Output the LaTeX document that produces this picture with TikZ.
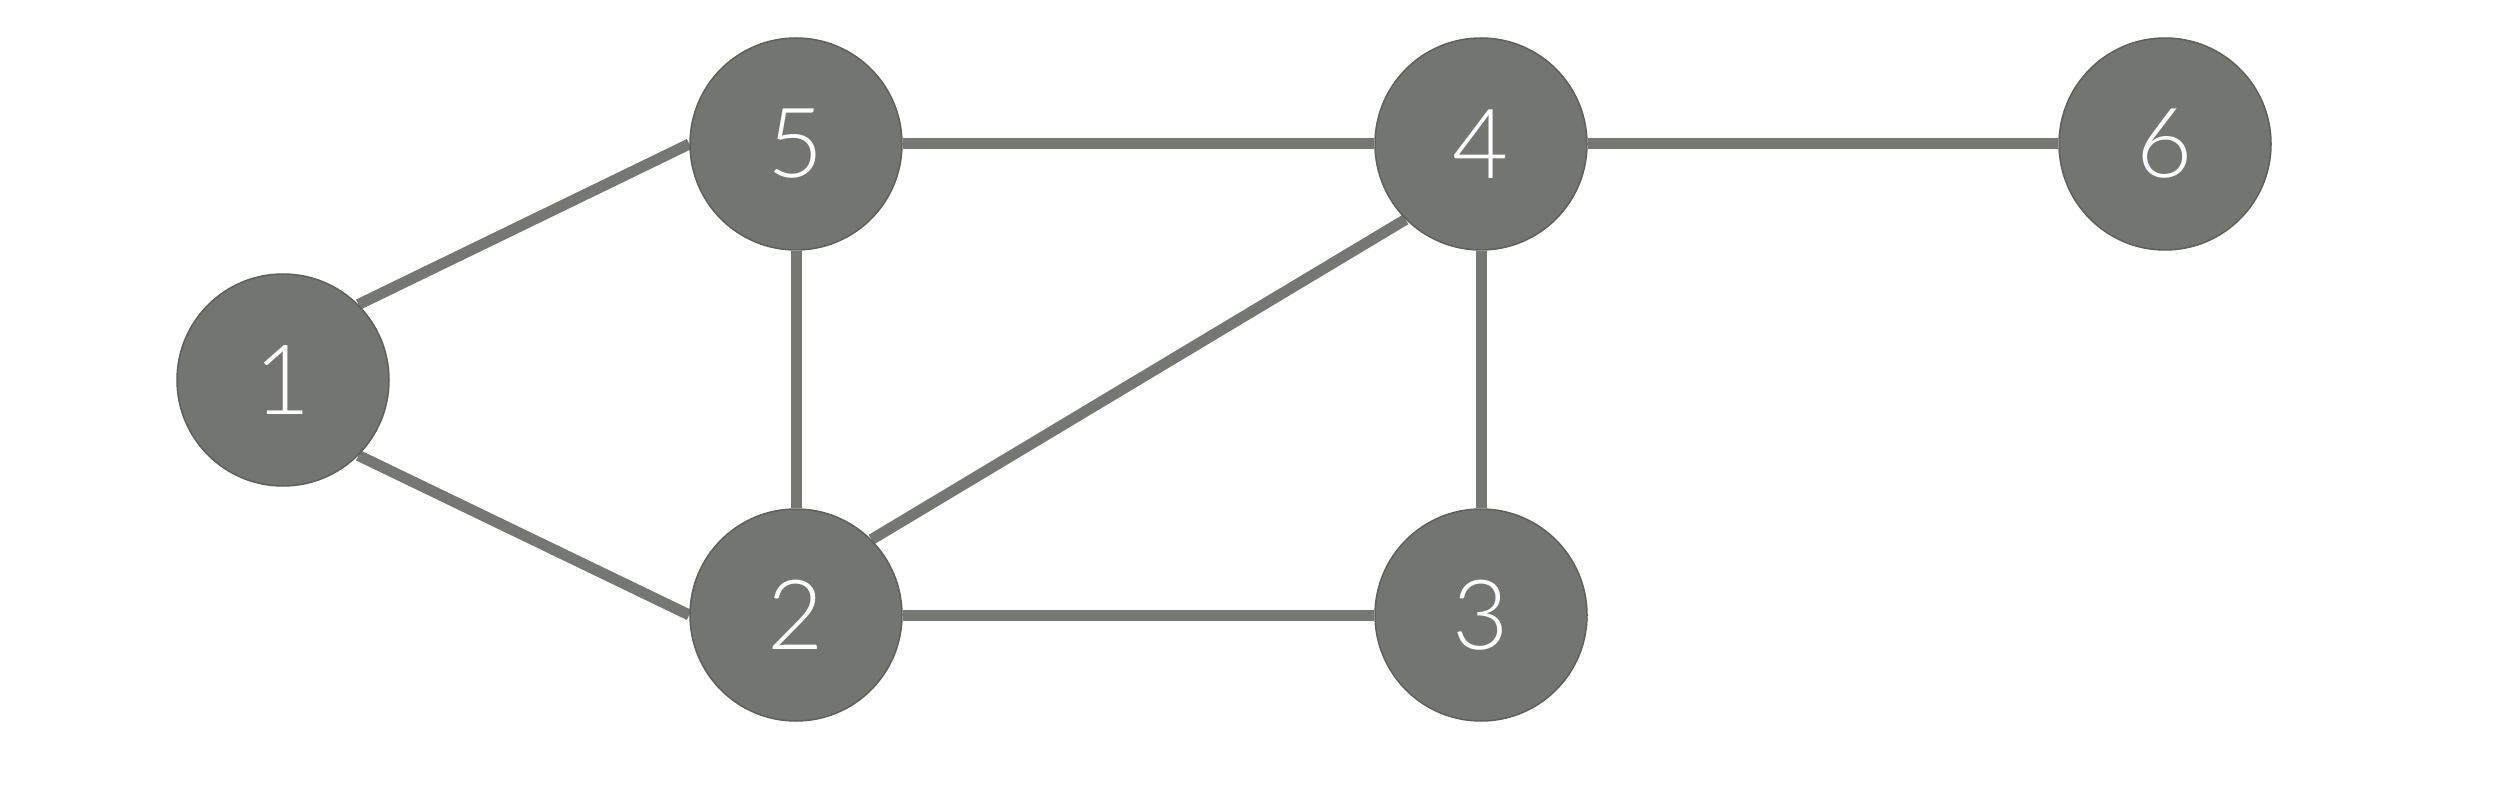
\documentclass[tikz,border=0pt]{standalone}
\usepackage{fontspec}
\setmainfont{Lato Light}
\usetikzlibrary{backgrounds}
\definecolor{nodefill}{HTML}{737570}
\definecolor{nodeline}{HTML}{5E605C}
\definecolor{edgecol}{HTML}{757773}
\begin{document}
\begin{tikzpicture}[x=1pt,y=-1pt,
  vert/.style={circle,fill=nodefill,draw=nodeline,line width=1.5pt,minimum size=212pt,inner sep=0pt,text=white,font=\fontsize{97}{97}\selectfont},
  edge/.style={draw=edgecol,line width=11pt}]
\useasboundingbox (0,0) rectangle (2508,802);
\node[vert] (n1) at (283,380) {1};
\node[vert] (n5) at (796,144) {5};
\node[vert] (n4) at (1481,144) {4};
\node[vert] (n6) at (2165,144) {6};
\node[vert] (n2) at (796,615) {2};
\node[vert] (n3) at (1481,615) {3};
\begin{scope}[on background layer]
\path[edge] (n1.north east) -- (n5.west);
\path[edge] (n1.south east) -- (n2.west);
\path[edge] (n5.east) -- (n4.west);
\path[edge] (n5.south) -- (n2.north);
\path[edge] (n4.east) -- (n6.west);
\path[edge] (n4.south west) -- (n2.north east);
\path[edge] (n4.south) -- (n3.north);
\path[edge] (n2.east) -- (n3.west);
\end{scope}
\end{tikzpicture}
\end{document}
